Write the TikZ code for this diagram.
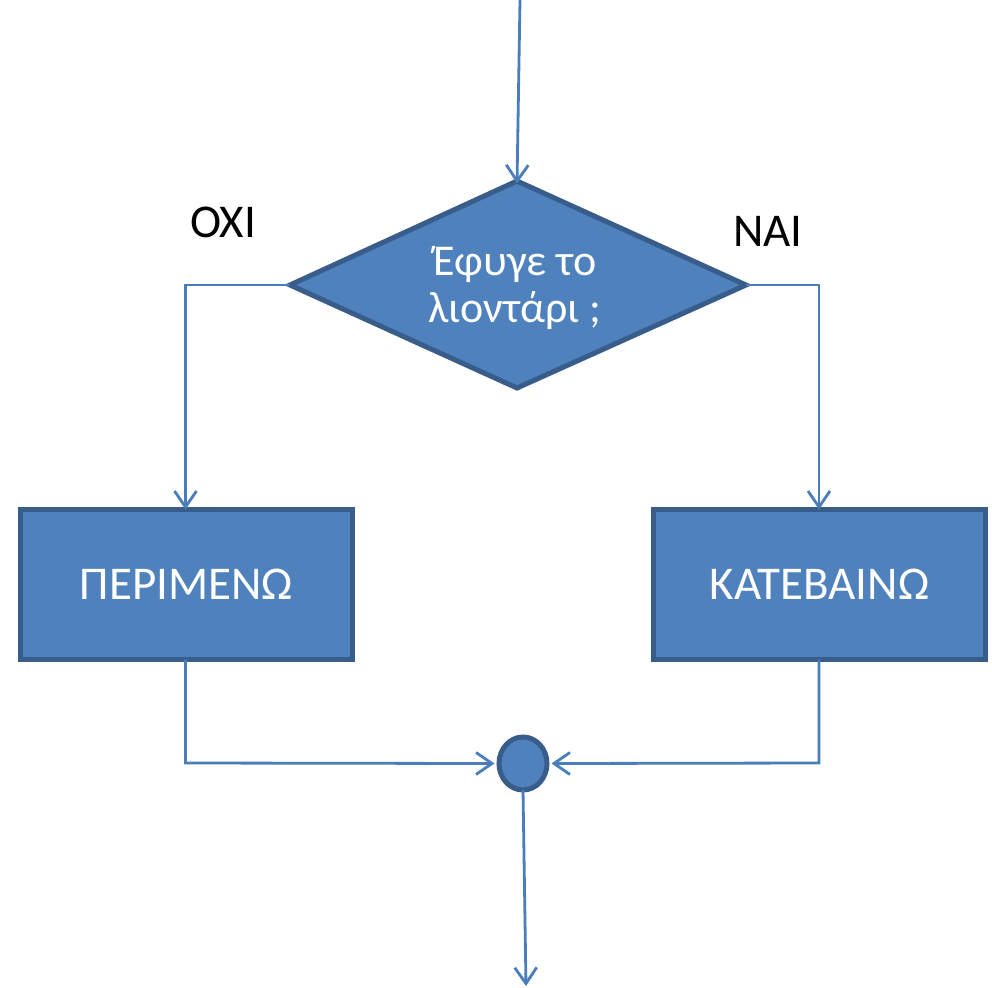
\documentclass[tikz,border=0pt]{standalone}
\usepackage{fontspec}
\setmainfont{Carlito}
\usetikzlibrary{arrows.meta,shapes.geometric}
\definecolor{fillblue}{HTML}{4F81BD}
\definecolor{edgeblue}{HTML}{385D8A}
\definecolor{linkblue}{HTML}{4A7EBB}
\begin{document}
\begin{tikzpicture}[x=1pt,y=-1pt,
  link/.style={draw=linkblue,line width=2.8pt},
  arr/.style={link,-{Straight Barb[length=16pt,width=22pt,line width=2.8pt]}},
  boxstyle/.style={draw=edgeblue,fill=fillblue,line width=5pt,text=white,font=\fontsize{47}{56}\selectfont},
  lab/.style={font=\fontsize{47}{56}\selectfont,text=black}]
\useasboundingbox (0,0) rectangle (992,987);
% diamond
\path[boxstyle] (517,181) -- (746,285) -- (517,388) -- (290,285) -- cycle;
\coordinate (dtop) at (517,181);
\coordinate (dleft) at (290,285);
\coordinate (dright) at (746,285);
\node[text=white,font=\fontsize{44}{47}\selectfont,align=center] (q) at (515,288) {Έφυγε το\\λιοντάρι ;};
% boxes
\node[boxstyle,minimum width=332pt,minimum height=150pt,inner sep=0pt] (left) at (186.5,584.5) {ΠΕΡΙΜΕΝΩ};
\node[boxstyle,minimum width=332pt,minimum height=150pt,inner sep=0pt] (right) at (819.5,584.5) {ΚΑΤΕΒΑΙΝΩ};
% merge circle
\node[draw=edgeblue,fill=fillblue,line width=5pt,ellipse,minimum width=48pt,minimum height=53pt,inner sep=0pt] (merge) at (523,763.5) {};
% labels
\node[lab] (oxi) at (223,222) {ΟΧΙ};
\node[lab] (nai) at (768,231) {ΝΑΙ};
% connectors
\coordinate (start) at (520,0);
\coordinate (end) at (526,986);
\draw[arr] (start) -- ([yshift=-2.5pt]dtop);
\draw[arr] (dleft) -- (185.5,285) -- ([xshift=-1pt,yshift=-2.5pt]left.north);
\draw[arr] (dright) -- (819,285) -- ([xshift=-0.5pt,yshift=-2.5pt]right.north);
\draw[arr] ([xshift=-1pt,yshift=2.5pt]left.south) -- (185.5,763) -- ([xshift=-2pt]merge.west);
\draw[arr] ([xshift=-0.5pt,yshift=2.5pt]right.south) -- (819,763) -- ([xshift=2pt]merge.east);
\draw[arr] ([yshift=2.5pt]merge.south) -- (end);
\end{tikzpicture}
\end{document}
